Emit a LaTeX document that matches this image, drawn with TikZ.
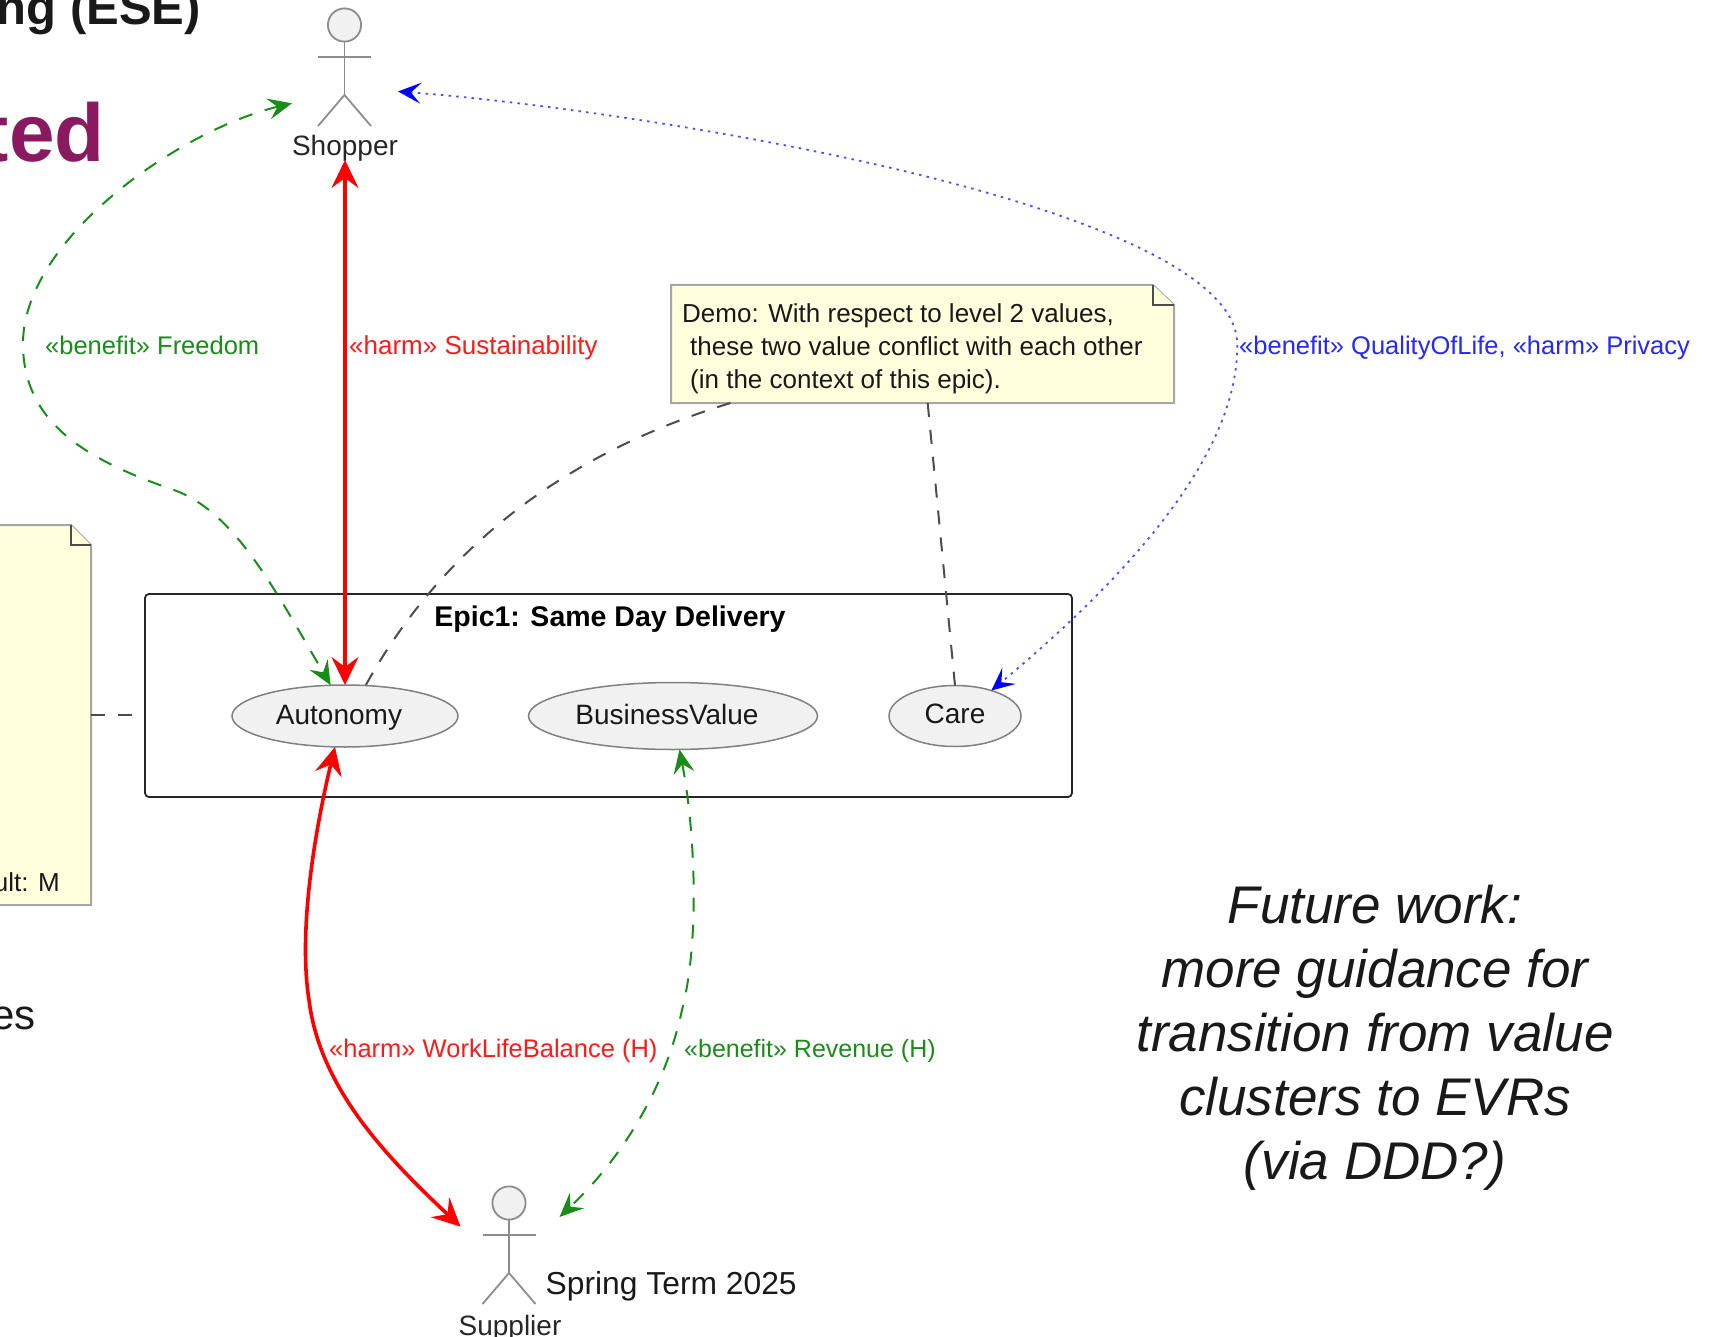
\documentclass[tikz,border=0pt]{standalone}
\usepackage{fontspec}
\setmainfont{Liberation Sans}
\usetikzlibrary{arrows.meta,shapes.geometric}
\definecolor{notefill}{HTML}{FEFFDD}
\definecolor{usefill}{HTML}{F1F1F1}
\definecolor{slidepurple}{HTML}{8A1A60}
\definecolor{benefitgreen}{HTML}{008000}
\tikzset{
  actorbox/.style={minimum width=#1,minimum height=152pt,inner sep=0pt,outer sep=0pt},
  actorfig/.pic={
    \draw[draw=gray!90,fill=usefill,line width=1.8pt] (0,0) circle [radius=16.6pt];
    \draw[gray!90,line width=1.8pt] (0,16.6) -- (0,70);
    \draw[gray!90,line width=1.8pt] (-26.5,32) -- (26.5,32);
    \draw[gray!90,line width=1.8pt] (-26.5,101) -- (0,70) -- (26.5,101);
  },
  usecase/.style={ellipse,draw=gray,fill=usefill,line width=1.5pt,inner sep=0pt,outer sep=0pt},
  actorlabel/.style={anchor=base,inner sep=0pt,font=\fontsize{28}{32}\selectfont,text=black!85},
  usetext/.style={anchor=base,inner sep=0pt,font=\fontsize{28}{32}\selectfont,text=black!90},
  notebox/.style={inner sep=0pt,outer sep=0pt},
  notetext/.style={anchor=west,inner sep=0pt,align=left,font=\fontsize{26}{33}\selectfont,text=black!90},
  notefold/.style={draw=gray!70,fill=notefill,line width=2pt},
  linklabel/.style={anchor=base west,inner sep=0pt,font=\fontsize{25.5}{30}\selectfont},
  benefitline/.style={benefitgreen!90,line width=2pt,dash pattern=on 14pt off 13pt,{Stealth[length=24pt,width=21pt,inset=9pt]}-{Stealth[length=24pt,width=21pt,inset=9pt]}},
  harmline/.style={red,line width=3.6pt,{Stealth[length=28pt,width=27pt,inset=10pt]}-{Stealth[length=28pt,width=27pt,inset=10pt]}},
  mixedline/.style={blue!70,line width=1.8pt,dash pattern=on 2.5pt off 5.2pt,{Stealth[length=23pt,width=21pt,inset=10pt,blue]}-{Stealth[length=23pt,width=21pt,inset=10pt,blue]}},
  noteline/.style={black!70,line width=2pt,dash pattern=on 14pt off 13pt},
}
\begin{document}
\begin{tikzpicture}[x=1pt,y=-1pt]
        \useasboundingbox (0,0) rectangle (1710,1337);
        \node [anchor=base east,inner sep=0pt,font=\fontsize{49}{55}\selectfont\bfseries,text=black!90] (slidetitle) at (201,25) {ng (ESE)};
        \node [anchor=base east,inner sep=0pt,font=\fontsize{82}{90}\selectfont\bfseries,text=slidepurple] (slideword) at (105,162) {ted};
        \node [anchor=base east,inner sep=0pt,font=\fontsize{42}{48}\selectfont,text=black!90] (slideend) at (36,1029) {es};
        \node [anchor=base west,inner sep=0pt,font=\fontsize{31.8}{36}\selectfont,text=black!90] (term) at (545.5,1294) {Spring Term 2025};
        \node [align=center,inner sep=0pt,font=\fontsize{53}{64}\selectfont\itshape,text=black!90] (future) at (1375,1037.5) {Future work:\\more guidance for\\transition from value\\clusters to EVRs\\(via DDD?)};

        \node [draw=black!85,line width=1.8pt,rounded corners=4pt,minimum width=927pt,minimum height=203pt,inner sep=0pt,outer sep=0pt] (epic) at (608.5,695.5) {};
        \node [inner sep=0pt,font=\fontsize{28.5}{32}\selectfont\bfseries] (epictitle) at (610,619) {Epic1: Same Day Delivery};
        \node [usecase,minimum width=226pt,minimum height=62pt] (autonomy) at (345,716) {};
        \node [usecase,minimum width=289pt,minimum height=67pt] (business) at (673,716) {};
        \node [usecase,minimum width=132pt,minimum height=61pt] (care) at (955,716) {};
        \node [usetext] (autonomytext) at (339,724) {Autonomy};
        \node [usetext] (businesstext) at (667,724) {BusinessValue};
        \node [usetext] (caretext) at (955,723) {Care};

        \node [actorbox=106pt] (shopper) at (345,84) {};
        \pic at (344.5,25) {actorfig};
        \node [actorlabel] (shopperlabel) at (345,156) {Shopper};
        \node [actorbox=99pt] (supplier) at (510,1260) {};
        \pic at (509,1203) {actorfig};
        \node [actorlabel] (supplierlabel) at (510,1335) {Supplier};

        \node [notebox,minimum width=503pt,minimum height=118pt] (demonote) at (922.5,344) {};
        \draw [notefold] (demonote.south west) -- (demonote.north west) -- ([xshift=-21pt]demonote.north east) -- ([yshift=-20pt]demonote.north east) -- (demonote.south east) -- cycle;
        \draw [notefold,draw=black!70] ([xshift=-21pt]demonote.north east) -- ([xshift=-21pt,yshift=-20pt]demonote.north east) -- ([yshift=-20pt]demonote.north east);
        \node [notetext] (demotext) at (682,349) {Demo: With respect to level 2 values,\\\hspace*{8pt}these two value conflict with each other\\\hspace*{8pt}(in the context of this epic).};

        \node [notebox,minimum width=191pt,minimum height=380pt] (valuenote) at (-4.5,715) {};
        \draw [notefold] (valuenote.south west) -- (valuenote.north west) -- ([xshift=-20pt]valuenote.north east) -- ([yshift=-20pt]valuenote.north east) -- (valuenote.south east) -- cycle;
        \draw [notefold,draw=black!70] ([xshift=-20pt]valuenote.north east) -- ([xshift=-20pt,yshift=-20pt]valuenote.north east) -- ([yshift=-20pt]valuenote.north east);
        \node [anchor=base east,inner sep=0pt,font=\fontsize{26}{33}\selectfont,text=black!90] (valuetext) at (60,891) {ult: M};

        \draw [noteline] (valuenote.east) -- (valuenote.east -| epic.west);
        \draw [noteline] ([xshift=-192pt]demonote.south) .. controls (610,440) and (460,515) .. (autonomy.56.7);
        \draw [noteline] (demonote.-85.6) -- (care.north);

        \draw [benefitline] (shopper.200.7) .. controls (180,130) and (20,240) .. (23,347) .. controls (25,420) and (80,458) .. (174,490) .. controls (235,512) and (275,590) .. (autonomy.115.8);
        \draw [harmline] (shopper.south) -- (autonomy.north);
        \draw [mixedline] (shopper.-8.6) .. controls (620,108) and (1225,200) .. (1237,340) .. controls (1242,450) and (1130,575) .. (care.35.5);
        \draw [harmline] (autonomy.-108.4) .. controls (315,830) and (298,930) .. (309,1000) .. controls (320,1090) and (390,1160) .. (supplier.146.3);
        \draw [benefitline] (business.-79) .. controls (695,830) and (700,940) .. (682,1010) .. controls (665,1090) and (620,1160) .. (supplier.41);

        \node [linklabel,text=benefitgreen!90] (freedomlabel) at (45,355) {«benefit» Freedom};
        \node [linklabel,text=red!90,font=\fontsize{26}{30}\selectfont] (sustainlabel) at (349,355) {«harm» Sustainability};
        \node [linklabel,text=blue!85] (qualitylabel) at (1239,355) {«benefit» QualityOfLife, «harm» Privacy};
        \node [linklabel,text=red!90] (worklabel) at (329,1057) {«harm» WorkLifeBalance (H)};
        \node [linklabel,text=benefitgreen!90,font=\fontsize{25}{30}\selectfont] (revenuelabel) at (684,1057) {«benefit» Revenue (H)};
      \end{tikzpicture}
\end{document}
